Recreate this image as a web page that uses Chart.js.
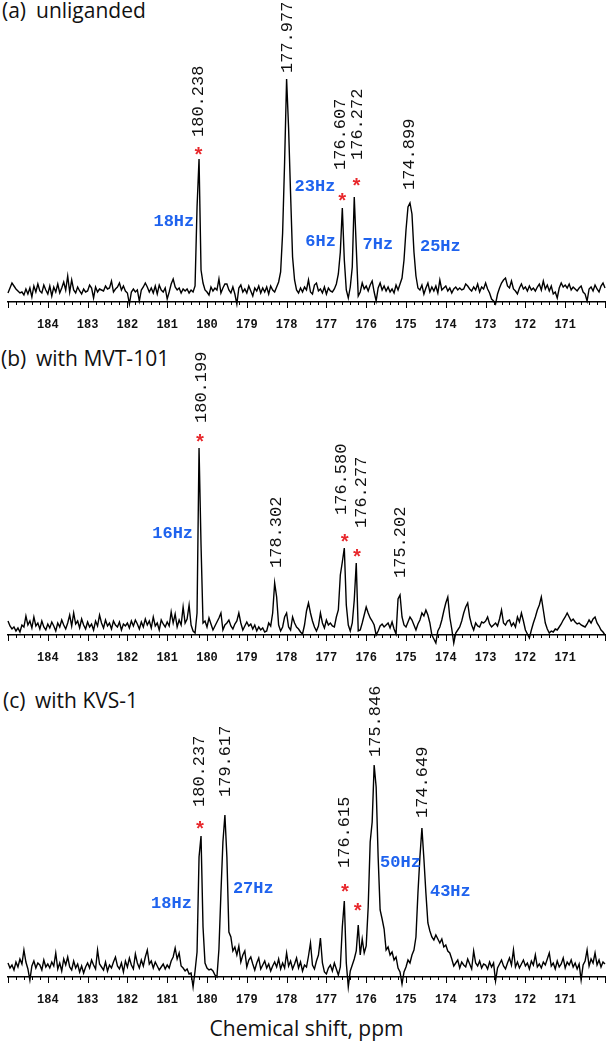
<!DOCTYPE html>
<html>
<head>
<meta charset="utf-8">
<script src="https://cdn.jsdelivr.net/npm/chart.js@4.4.1/dist/chart.umd.min.js"></script>
<style>
  body { margin: 0; background: #fff; }
  #wrap { position: relative; width: 613px; height: 1050px; overflow: hidden; }
  canvas { position: absolute; left: 0; }
  .ttl { position: absolute; font-family: "Open Sans", sans-serif; font-size: 21px; line-height: 21px; color: #111; white-space: nowrap; }
</style>
</head>
<body>
<div id="wrap">
  <div class="ttl" style="left:2px; top:0px">(a)</div>
  <div class="ttl" style="left:36px; top:0px">unliganded</div>
  <div class="ttl" style="left:1px; top:348px">(b)</div>
  <div class="ttl" style="left:36px; top:348px">with MVT-101</div>
  <div class="ttl" style="left:3px; top:690px">(c)</div>
  <div class="ttl" style="left:35px; top:690px">with KVS-1</div>
  <canvas id="chartA" width="613" height="332" style="top:0px"></canvas>
  <canvas id="chartB" width="613" height="333" style="top:332px"></canvas>
  <canvas id="chartC" width="613" height="342" style="top:665px"></canvas>
  <div class="ttl" style="left:0; top:1018px; width:613px; text-align:center">Chemical shift, ppm</div>
</div>
<script>
// ppm sampling grid, 185 -> 170 in 0.05 ppm steps
const ppm = Array.from({ length: 301 }, (_, i) => Math.round((185 - i * 0.05) * 100) / 100);

// intensities
const unliganded = [
  9, 14, 19, 16, 13, 11, 9, 10, 7, 13,
  8, 14, 5, 16, 10, 18, 11, 9, 17, 12,
  8, 16, 6, 15, 10, 18, 9, 14, 20, 12,
  26, 10, 22, 12, 9, 15, 11, 8, 13, 10,
  11, 17, 14, 4, 15, 10, 13, 12, 11, 16,
  13, 14, 21, 10, 13, 15, 19, 12, 16, 11,
  9, -2, 10, 13, 10, 12, 1, 12, 15, 19,
  15, 10, 14, 9, 16, 8, 17, 12, 10, 14,
  3, 10, 18, 23, 15, 12, 14, 9, 13, 11,
  13, 9, 12, 10, 16, 95, 143, 32, 19, 12,
  10, 7, 15, 11, 14, 12, 23, 9, 14, 18,
  18, 12, 9, 15, 8, -2, 14, 17, 10, 13,
  9, 16, 11, 6, 14, 11, 16, 9, 14, 10,
  15, 8, 16, 12, 10, 15, 20, 30, 69, 140,
  223, 174, 108, 45, 22, 12, 9, 14, 10, 15,
  12, 22, 10, 8, 17, 19, 11, 13, 9, 15,
  8, 14, 11, 10, 13, 18, 28, 50, 94, 42,
  12, 4, 15, 35, 105, 55, 6, 10, 19, 13,
  16, 11, 17, 21, 10, 1, 14, 19, 12, 16,
  11, 15, 10, 13, 9, 17, 12, 18, 24, 42,
  72, 95, 99, 88, 50, 26, 14, 12, 17, 8,
  14, 19, 10, 15, 11, 16, 9, 22, 12, 14,
  16, 11, 14, 9, 13, 15, 12, 14, 12, 13,
  18, 16, 13, 11, 15, 12, 18, 10, 15, 13,
  19, 13, 9, 3, 1, -2, 8, 14, 19, 22,
  24, 16, 14, 21, 13, 11, 8, 14, 18, 13,
  15, 11, 16, 12, 14, 11, 15, 18, 12, 21,
  13, 17, 11, 16, 8, 10, 4, 14, 19, 15,
  17, 14, 18, 12, 15, 13, 11, 14, 16, 10,
  8, 1, 13, 15, 11, 17, 13, 10, 16, 19, 14
];
const withMVT = [
  14, 9, 6, 8, 4, 7, 3, 10, 8, 19,
  10, 14, 7, 18, 9, 12, 6, 14, 8, 5,
  11, 7, 13, 9, 4, 12, 8, 15, 10, 6,
  12, 20, 9, 22, 11, 14, 7, 16, 10, 6,
  13, 8, 11, 5, 14, 9, 20, 12, 7, 15,
  9, 12, 6, 14, 10, 8, 13, 5, 11, 9,
  12, 7, 14, 9, 15, 11, 6, 13, 8, 16,
  10, 14, 7, 18, 9, 12, 5, 15, 11, 8,
  13, 9, 23, 12, 21, 8, 15, 10, 28, 12,
  16, 30, 10, 4, 2, 22, 187, 90, 12, 14,
  8, 17, 11, 5, 9, 13, 17, 22, 5, 10,
  12, 15, 9, 6, 11, 14, 22, 12, 5, 9,
  13, 9, 11, 6, 10, 4, 8, 5, 7, 3,
  4, 12, 9, 22, 52, 38, 10, 4, 8, 18,
  22, 8, 5, 18, 12, 8, 6, 3, 1, 10,
  24, 32, 22, 14, 8, 4, 9, 22, 12, 7,
  15, 10, 12, 9, 8, 18, 25, 60, 73, 87,
  30, 10, 4, 12, 35, 72, 4, 5, 12, 20,
  28, 22, 17, 14, 10, 0, 4, 9, 11, 8,
  10, 12, 7, 13, 6, 1, 36, 40, 18, 10,
  8, 13, 18, 15, 10, 5, 11, 15, 22, 19,
  25, 20, 12, 0, -4, -8, 4, 8, 15, 24,
  32, 38, 18, 6, -8, 2, 5, 8, 14, 22,
  28, 32, 18, 10, 5, 12, 9, 8, 13, 12,
  14, 18, 11, 8, 10, 12, 9, 16, 25, 12,
  10, 14, 15, 9, 12, 8, 18, 13, 22, 14,
  5, 1, -3, 5, 12, 18, 25, 30, 38, 25,
  12, 6, 2, 4, 3, 6, 5, 8, 11, 15,
  18, 22, 18, 14, 16, 13, 11, 12, 10, 9,
  8, 11, 15, 12, 16, 18, 12, 9, 5, 3, 0
];
const withKVS = [
  14, 9, 12, 7, 15, 10, 18, 13, 27, 15,
  8, -3, 11, 16, 9, 14, 12, 7, 17, 10,
  13, 9, 15, 11, 24, 8, 14, 6, 18, 12,
  20, 10, 7, 16, 9, 13, 5, 11, 4, 10,
  14, 9, 17, 12, 8, 27, 13, 10, 7, 15,
  6, 12, 9, 15, 20, 11, 8, 14, 5, 16,
  10, 19, 12, 8, 23, 14, 9, 17, 11, 20,
  27, 13, 16, 9, 15, 11, 7, 10, 13, 8,
  12, 9, 16, 20, 29, 18, 24, 11, 9, 6,
  8, 3, 4, -10, 6, 25, 120, 141, 50, 14,
  9, 7, 8, 6, 2, 0, 28, 84, 135, 162,
  120, 45, 40, 26, 30, 22, 31, 15, 22, 26,
  10, 17, 20, 13, 7, 14, 19, 8, 12, 16,
  9, 13, 6, 11, 15, 10, 18, 8, 14, 9,
  24, 11, 16, 8, 13, 19, 9, 15, 6, 12,
  10, 21, 34, 12, 8, 16, 22, 39, 14, 5,
  3, 9, 12, 6, 14, 8, 2, 10, 50, 76,
  14, -10, 6, 12, 18, 26, 52, 22, 38, 24,
  31, 70, 135, 155, 212, 190, 120, 67, 58, 48,
  27, 30, 22, 25, 17, 20, 9, 5, -7, 5,
  10, 17, 14, 22, 27, 40, 84, 120, 149, 118,
  84, 54, 46, 40, 37, 42, 38, 34, 38, 30,
  32, 26, 24, 18, 11, 14, 17, 9, 15, 12,
  10, 18, 13, 8, 26, 14, 11, 16, 9, 13,
  12, 8, 15, 10, 14, -4, 9, 13, 17, 11,
  8, 14, 19, 12, 27, 10, 15, 9, 13, 17,
  11, 14, 8, 16, 12, 22, 10, 13, 9, 15,
  12, 18, 24, 11, 14, 8, 16, 10, 13, 19,
  9, 15, 12, 17, 10, 14, 8, 13, -3, 12,
  16, 27, 11, 18, 14, 24, 12, 17, 10, 15, 13
];

const tickLabels = [184, 183, 182, 181, 180, 179, 178, 177, 176, 175, 174, 173, 172, 171];

// peak annotations: [ppm, height, text]
const peaksA = [[180.23, 165, "180.238"], [177.995, 229, "177.977"], [176.68, 132, "176.607"], [176.255, 142, "176.272"], [174.93, 112, "174.899"]];
const starsA = [[180.215, 151], [176.6, 105], [176.245, 120]];
const widthsA = [[180.32, 82, "18Hz", "right"], [177.80, 117, "23Hz", "left"], [176.76, 62, "6Hz", "right"], [176.09, 59, "7Hz", "left"], [174.65, 57, "25Hz", "left"]];

const peaksB = [[180.173, 212, "180.199"], [178.267, 67, "178.302"], [176.641, 120, "176.580"], [176.131, 107, "176.277"], [175.173, 57, "175.202"]];
const starsB = [[180.173, 197], [176.542, 97], [176.23, 82]];
const widthsB = [[180.35, 103, "16Hz", "right"]];

const peaksC = [[180.215, 170, "180.237"], [179.572, 180, "179.617"], [176.559, 109, "176.615"], [175.792, 220, "175.846"], [174.604, 159, "174.649"]];
const starsC = [[180.173, 152], [176.535, 89], [176.213, 70]];
const widthsC = [[180.379, 75, "18Hz", "right"], [179.349, 90, "27Hz", "left"], [175.651, 116, "50Hz", "left"], [174.398, 87, "43Hz", "left"]];

// minor (0.2 ppm) and major (1 ppm) tick marks
const tickMarks = {
    id: "tickMarks",
    afterDraw(chart) {
        const ctx = chart.ctx;
        const sx = chart.scales.x;
        const y0 = chart.chartArea.bottom;
        ctx.save();
        ctx.strokeStyle = "#000";
        ctx.lineWidth = 1;
        for (let k = 0; k <= 75; k++) {
            const v = 170 + k * 0.2;
            const px = Math.round(sx.getPixelForValue(v)) + 0.5;
            ctx.beginPath();
            ctx.moveTo(px, y0);
            ctx.lineTo(px, y0 + (k % 5 === 0 ? 6 : 3));
            ctx.stroke();
        }
        ctx.restore();
    }
};

function notes(peaks, stars, widths) {
    return {
        id: "notes",
        afterDatasetsDraw(chart) {
            const ctx = chart.ctx;
            const sx = chart.scales.x, sy = chart.scales.y;
            ctx.save();

            // rotated peak positions
            ctx.fillStyle = "#111";
            ctx.font = '17px "Liberation Mono"';
            const dh = ctx.measureText("0").actualBoundingBoxAscent;
            peaks.forEach(([p, h, t]) => {
                ctx.save();
                ctx.translate(sx.getPixelForValue(p) + dh / 2, sy.getPixelForValue(h));
                ctx.rotate(-Math.PI / 2);
                ctx.textAlign = "left";
                ctx.textBaseline = "alphabetic";
                ctx.fillText(t, 0, 0);
                ctx.restore();
            });

            // red asterisks
            ctx.fillStyle = "#e8282c";
            ctx.font = 'bold 20px "Liberation Mono"';
            ctx.textAlign = "center";
            ctx.textBaseline = "alphabetic";
            const sm = ctx.measureText("*");
            const off = (sm.actualBoundingBoxAscent - sm.actualBoundingBoxDescent) / 2;
            stars.forEach(([p, h]) => {
                ctx.fillText("*", sx.getPixelForValue(p), sy.getPixelForValue(h) + off);
            });

            // line widths in blue
            ctx.fillStyle = "#1f63ee";
            ctx.font = 'bold 17px "Liberation Mono"';
            const ch = ctx.measureText("H").actualBoundingBoxAscent;
            widths.forEach(([p, h, t, al]) => {
                ctx.textAlign = al;
                ctx.fillText(t, sx.getPixelForValue(p), sy.getPixelForValue(h) + ch / 2);
            });
            ctx.restore();
        }
    };
}

function spectrum(id, values, areaH, peaks, stars, widths) {
    const ctx = document.getElementById(id).getContext("2d");
    return new Chart(ctx, {
        type: "line",
        data: {
            datasets: [{
                data: ppm.map((p, i) => ({ x: p, y: values[i] })),
                borderColor: "#000",
                borderWidth: 1.4,
                pointRadius: 0,
                pointHoverRadius: 0,
                tension: 0,
                clip: false
            }]
        },
        options: {
            responsive: false,
            animation: false,
            events: [],
            layout: { autoPadding: false, padding: { left: 4, right: 3, top: 0, bottom: 0 } },
            plugins: { legend: { display: false }, tooltip: { enabled: false } },
            scales: {
                x: {
                    type: "linear",
                    min: 170,
                    max: 185,
                    reverse: true,
                    afterFit: (s) => { s.height = 30; },
                    grid: { display: false },
                    border: { display: true, color: "#000", width: 1.5 },
                    ticks: {
                        stepSize: 1,
                        autoSkip: false,
                        maxRotation: 0,
                        padding: 8,
                        color: "#111",
                        font: { family: "Liberation Mono", size: 12, weight: "bold" },
                        callback: (v) => tickLabels.includes(v) ? String(v) : ""
                    }
                },
                y: { display: false, min: 0, max: areaH }
            }
        },
        plugins: [tickMarks, notes(peaks, stars, widths)]
    });
}

spectrum("chartA", unliganded, 302, peaksA, starsA, widthsA);
spectrum("chartB", withMVT, 303, peaksB, starsB, widthsB);
spectrum("chartC", withKVS, 312, peaksC, starsC, widthsC);
</script>
</body>
</html>
